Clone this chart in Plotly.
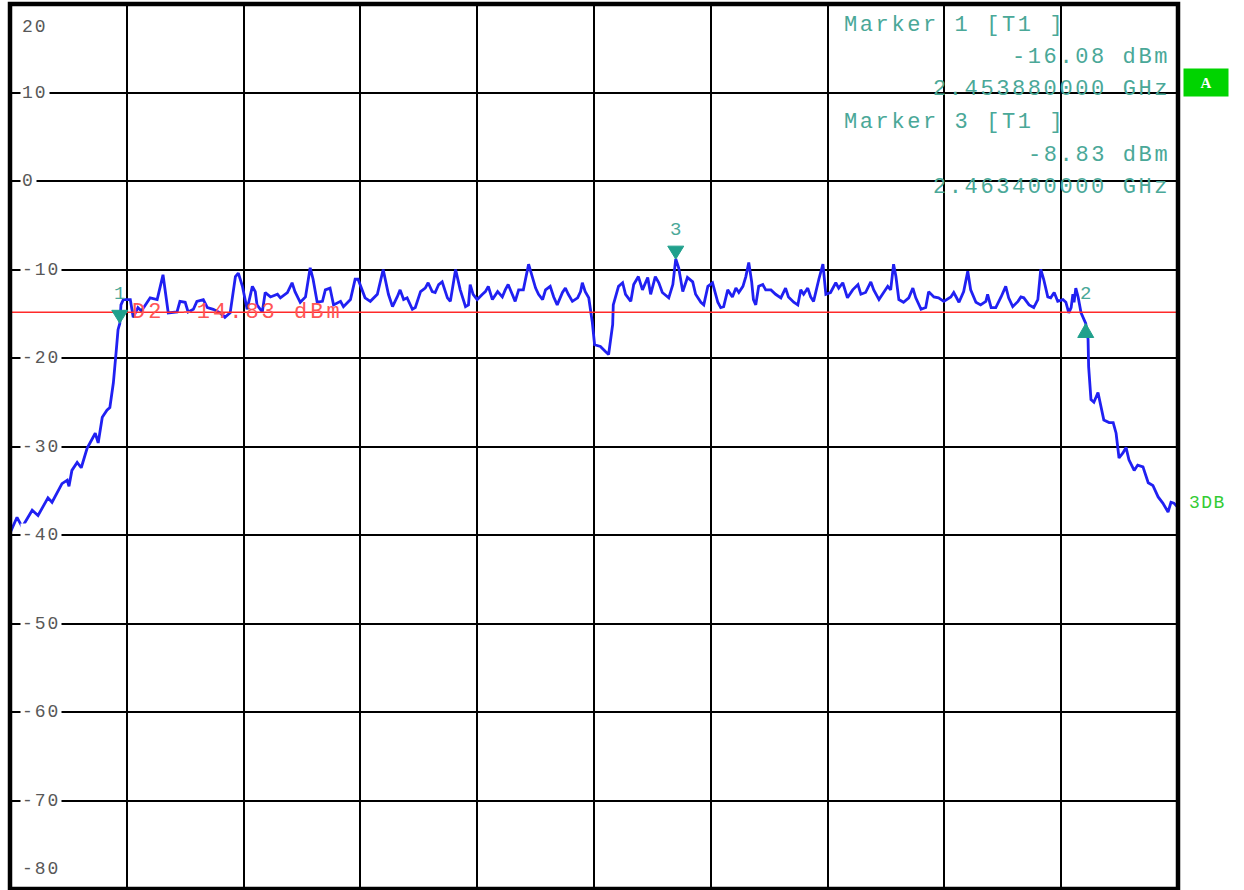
import plotly.graph_objects as go

# ---------------- data ----------------
freq_mhz = [
    2452.00, 2452.12, 2452.21, 2452.38, 2452.48, 2452.65, 2452.72, 2452.89, 2452.98, 2453.01,
    2453.06, 2453.15, 2453.22, 2453.32, 2453.46, 2453.51, 2453.58, 2453.66, 2453.71, 2453.77,
    2453.82, 2453.85, 2453.88, 2453.90, 2453.94, 2454.06, 2454.11, 2454.19, 2454.25, 2454.31,
    2454.40, 2454.52, 2454.62, 2454.71, 2454.86, 2454.91, 2455.00, 2455.05, 2455.14, 2455.20,
    2455.31, 2455.38, 2455.48, 2455.60, 2455.68, 2455.77, 2455.86, 2455.91, 2455.98, 2456.06,
    2456.11, 2456.15, 2456.20, 2456.23, 2456.32, 2456.37, 2456.46, 2456.58, 2456.63, 2456.75,
    2456.83, 2456.88, 2456.97, 2457.06, 2457.14, 2457.19, 2457.26, 2457.35, 2457.40, 2457.48,
    2457.54, 2457.66, 2457.71, 2457.83, 2457.91, 2457.96, 2458.08, 2458.17, 2458.29, 2458.39,
    2458.48, 2458.55, 2458.63, 2458.68, 2458.74, 2458.80, 2458.89, 2458.94, 2459.03, 2459.11,
    2459.16, 2459.23, 2459.28, 2459.34, 2459.40, 2459.49, 2459.54, 2459.63, 2459.71, 2459.80,
    2459.85, 2459.88, 2459.93, 2460.00, 2460.09, 2460.14, 2460.19, 2460.26, 2460.35, 2460.43,
    2460.48, 2460.53, 2460.60, 2460.65, 2460.71, 2460.79, 2460.88, 2460.95, 2461.00, 2461.05,
    2461.12, 2461.17, 2461.25, 2461.31, 2461.37, 2461.46, 2461.51, 2461.56, 2461.63, 2461.72,
    2461.77, 2461.80, 2461.85, 2461.91, 2461.97, 2462.01, 2462.11, 2462.20, 2462.25, 2462.32,
    2462.33, 2462.42, 2462.49, 2462.54, 2462.63, 2462.68, 2462.76, 2462.83, 2462.92, 2462.97,
    2463.05, 2463.11, 2463.17, 2463.28, 2463.35, 2463.40, 2463.45, 2463.52, 2463.60, 2463.69,
    2463.74, 2463.83, 2463.88, 2463.95, 2464.03, 2464.12, 2464.17, 2464.22, 2464.29, 2464.37,
    2464.43, 2464.48, 2464.55, 2464.60, 2464.65, 2464.70, 2464.73, 2464.77, 2464.82, 2464.89,
    2464.94, 2465.03, 2465.11, 2465.20, 2465.28, 2465.33, 2465.42, 2465.49, 2465.54, 2465.59,
    2465.66, 2465.71, 2465.76, 2465.85, 2465.92, 2465.97, 2466.05, 2466.14, 2466.19, 2466.26,
    2466.34, 2466.43, 2466.52, 2466.57, 2466.65, 2466.74, 2466.79, 2466.88, 2466.96, 2467.03,
    2467.08, 2467.13, 2467.17, 2467.22, 2467.30, 2467.39, 2467.46, 2467.51, 2467.60, 2467.68,
    2467.73, 2467.82, 2467.90, 2467.99, 2468.11, 2468.16, 2468.25, 2468.33, 2468.40, 2468.45,
    2468.54, 2468.62, 2468.71, 2468.74, 2468.80, 2468.88, 2468.97, 2469.05, 2469.10, 2469.17,
    2469.26, 2469.31, 2469.36, 2469.45, 2469.53, 2469.60, 2469.65, 2469.70, 2469.77, 2469.82,
    2469.88, 2469.94, 2470.03, 2470.08, 2470.13, 2470.17, 2470.20, 2470.22, 2470.25, 2470.29,
    2470.34, 2470.42, 2470.46, 2470.47, 2470.51, 2470.56, 2470.63, 2470.68, 2470.73, 2470.82,
    2470.89, 2470.94, 2470.99, 2471.06, 2471.11, 2471.16, 2471.25, 2471.31, 2471.40, 2471.49,
    2471.57, 2471.66, 2471.74, 2471.83, 2471.88, 2471.93, 2472.00,
]
level_dbm = [
    -39.8, -38.0, -39.1, -37.2, -37.8, -35.8, -36.3, -34.2, -33.8, -34.5,
    -32.7, -31.8, -32.4, -30.2, -28.5, -29.6, -26.7, -25.9, -25.6, -22.8,
    -19.1, -16.8, -16.1, -14.0, -13.4, -13.4, -15.4, -14.3, -14.7, -14.1,
    -13.2, -13.4, -10.6, -14.9, -14.8, -13.6, -13.7, -14.8, -14.5, -13.6,
    -13.4, -14.3, -14.5, -14.9, -15.4, -14.9, -10.8, -10.4, -11.9, -14.5,
    -13.2, -11.9, -12.5, -14.0, -14.8, -12.6, -13.1, -12.8, -13.2, -12.6,
    -11.5, -12.5, -13.7, -13.1, -9.8, -11.1, -13.7, -13.6, -12.3, -12.1,
    -14.0, -13.6, -14.2, -13.4, -11.1, -11.1, -13.2, -13.6, -12.8, -10.0,
    -12.8, -14.2, -13.1, -12.3, -13.4, -13.2, -14.5, -14.3, -12.5, -12.1,
    -11.5, -12.5, -12.6, -11.7, -11.4, -13.2, -13.6, -10.0, -12.3, -14.2,
    -14.0, -11.7, -12.8, -13.4, -12.8, -12.5, -11.9, -13.4, -12.5, -13.1,
    -12.3, -11.7, -12.8, -13.6, -12.3, -12.3, -9.4, -11.1, -12.1, -12.8,
    -13.4, -12.3, -11.9, -13.1, -14.0, -12.6, -12.1, -12.8, -13.6, -13.2,
    -12.5, -11.5, -12.5, -13.2, -15.9, -18.5, -18.7, -19.3, -19.6, -16.2,
    -14.0, -11.9, -11.5, -12.8, -13.6, -11.7, -10.8, -12.3, -10.9, -12.8,
    -10.8, -11.5, -12.6, -13.2, -11.7, -8.8, -9.8, -12.5, -10.9, -11.4,
    -12.8, -13.7, -14.0, -11.9, -11.5, -13.7, -14.3, -14.2, -12.3, -13.1,
    -12.1, -12.6, -11.9, -10.8, -9.2, -11.4, -13.4, -14.0, -11.9, -11.7,
    -12.3, -12.3, -12.8, -13.2, -12.1, -13.1, -13.7, -14.0, -12.3, -12.8,
    -12.1, -13.1, -13.6, -11.1, -9.4, -12.8, -12.6, -11.5, -12.1, -11.5,
    -13.2, -12.3, -11.7, -12.8, -12.6, -11.4, -12.3, -13.4, -12.6, -11.9,
    -12.3, -9.4, -10.8, -13.4, -13.7, -13.2, -12.1, -13.2, -14.5, -14.3,
    -12.5, -13.1, -13.2, -13.6, -13.1, -12.6, -13.7, -12.5, -10.2, -12.3,
    -13.7, -14.0, -13.6, -12.8, -14.3, -14.3, -13.1, -11.9, -13.2, -14.2,
    -13.6, -13.1, -13.2, -14.0, -14.3, -13.4, -10.0, -11.1, -13.1, -13.2,
    -12.6, -13.6, -13.4, -13.7, -14.9, -14.3, -12.8, -13.7, -12.1, -13.1,
    -14.9, -16.1, -17.9, -21.0, -24.7, -25.0, -23.9, -25.5, -27.0, -27.3,
    -27.3, -28.5, -31.3, -30.7, -30.1, -31.5, -32.7, -32.1, -32.3, -34.1,
    -34.4, -35.7, -36.4, -37.4, -36.3, -36.4, -36.9,
]

span_start_mhz = 2452.0
span_stop_mhz = 2472.0
grid_step_mhz = 2.0
y_ticks = [20, 10, 0, -10, -20, -30, -40, -50, -60, -70, -80]

marker_names = ["1", "2", "3"]
marker_freq_mhz = [2453.88, 2470.42, 2463.40]
marker_level_dbm = [-16.08, -16.1, -8.83]
marker_pointing = ["down", "up", "down"]
info_markers = [0, 2]            # markers listed in the readout box
display_line_name = "D2"
display_line_dbm = -14.83
side_label = "3DB"
side_label_level = -36.4
screen_tag = "A"

# ---------------- styles ----------------
MONO = "Liberation Mono"
TEAL_TXT = "#4aa898"
TEAL_MK = "#20a08c"
TRACE = "#2020f2"


def spaced(text, ls):
    return '<span style="letter-spacing:%spx">%s</span>' % (ls, text)


fig = go.Figure()
fig.add_trace(go.Scatter(x=freq_mhz, y=level_dbm, mode="lines",
                         line=dict(color=TRACE, width=2.8), hoverinfo="skip"))

fig.update_layout(
    width=1244, height=890,
    margin=dict(l=10, r=66, t=4, b=1),
    paper_bgcolor="white", plot_bgcolor="white",
    showlegend=False,
)
fig.update_xaxes(range=[span_start_mhz, span_stop_mhz], tick0=span_start_mhz, dtick=grid_step_mhz,
                 showgrid=True, gridcolor="black", gridwidth=2, showticklabels=False,
                 ticks="", zeroline=False, showline=False, fixedrange=True)
fig.update_yaxes(range=[y_ticks[-1], y_ticks[0]], tick0=0, dtick=10,
                 showgrid=True, gridcolor="black", gridwidth=2.3, showticklabels=False,
                 ticks="", zeroline=False, showline=False, fixedrange=True)

shapes = []
# display line
shapes.append(dict(type="line", xref="paper", x0=0, x1=1, yref="y",
                   y0=display_line_dbm, y1=display_line_dbm,
                   line=dict(color="#ff2a2a", width=1.3), layer="above"))
# frame
shapes.append(dict(type="rect", xref="paper", yref="paper", x0=0, x1=1, y0=0, y1=1,
                   line=dict(color="black", width=4.5), layer="above"))
# marker triangles
for f, lv, d in zip(marker_freq_mhz, marker_level_dbm, marker_pointing):
    path = "M-8,13 L8,13 L0,0 Z" if d == "down" else "M-8,-14 L8,-14 L0,0 Z"
    shapes.append(dict(type="path", xref="x", yref="y", xsizemode="pixel", ysizemode="pixel",
                       xanchor=f, yanchor=lv, path=path,
                       fillcolor=TEAL_MK, line=dict(color=TEAL_MK, width=1), layer="above"))
fig.update_layout(shapes=shapes)

ann = []
# y tick labels inside the grid
for v in y_ticks:
    if v == y_ticks[0]:
        ya, ys = "top", -11
    elif v == y_ticks[-1]:
        ya, ys = "bottom", 8
    else:
        ya, ys = "middle", 0
    ann.append(dict(xref="paper", x=0, xanchor="left", xshift=10, yref="y", y=v,
                    yanchor=ya, yshift=ys, text=spaced(str(v), 2), showarrow=False,
                    font=dict(family=MONO, size=18, color="#585858"),
                    bgcolor="white" if ya == "middle" else "rgba(0,0,0,0)", borderpad=1))

# marker labels
for name, f, lv in zip(marker_names, marker_freq_mhz, marker_level_dbm):
    ann.append(dict(xref="x", x=f, yref="y", y=lv, yshift=29, text=name, showarrow=False,
                    font=dict(family=MONO, size=19, color=TEAL_TXT)))

# marker readout
line_centers = [25, 57, 89, 122, 155, 187]
k = 0
for mi in info_markers:
    lines = [("Marker %s [T1 ]" % marker_names[mi], "left"),
             ("%.2f dBm" % marker_level_dbm[mi], "right"),
             ("%.9f GHz" % (marker_freq_mhz[mi] / 1000.0), "right")]
    for txt, side in lines:
        ann.append(dict(xref="paper", x=1, xanchor=side,
                        xshift=(-336 if side == "left" else -6),
                        yref="paper", y=1, yanchor="middle", yshift=-(line_centers[k] - 4),
                        text=spaced(txt, 2.6), showarrow=False,
                        font=dict(family=MONO, size=22, color=TEAL_TXT)))
        k += 1

# display line label
ann.append(dict(xref="paper", x=0, xanchor="left", xshift=120, yref="y", y=display_line_dbm,
                yanchor="middle", text=spaced("%s %.2f dBm" % (display_line_name, display_line_dbm), 3),
                showarrow=False, font=dict(family=MONO, size=22, color="#ff5555")))

# right side labels
ann.append(dict(xref="paper", x=1, xanchor="left", xshift=9, yref="y", y=side_label_level,
                yanchor="middle", text=spaced(side_label, 1.5), showarrow=False,
                font=dict(family=MONO, size=18, color="#33cc33")))
ann.append(dict(xref="paper", x=1, xanchor="center", xshift=28, yref="paper", y=1,
                yanchor="middle", yshift=-78, text="<b>%s</b>" % screen_tag, showarrow=False,
                width=42, height=25, bgcolor="#00d400",
                font=dict(family="Liberation Serif", size=15, color="white")))
fig.update_layout(annotations=ann)

fig.write_html("out.html", config={"displayModeBar": False},
               post_script="document.body.style.margin='0';document.body.style.overflow='hidden';")
